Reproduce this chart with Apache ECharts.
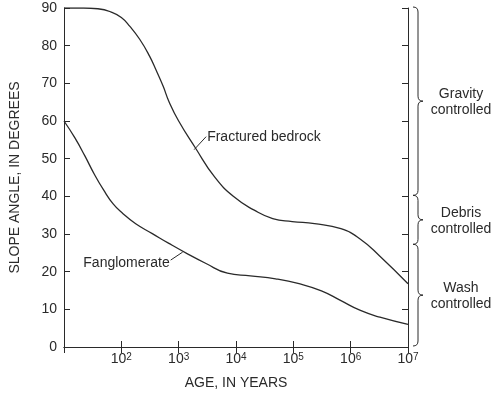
<!DOCTYPE html>
<html><head><meta charset="utf-8">
<script src="https://cdn.jsdelivr.net/npm/echarts@6/dist/echarts.min.js"></script>
<style>html,body{margin:0;padding:0;background:#fff}#c{width:500px;height:395px}</style>
</head><body><div id="c"></div>
<script>
// ---- data ----
const xMinYears = 10, xMaxYears = 1e7;
const yMin = 0, yMax = 90, yStep = 10;

const bedrockAges  = [10, 22, 39, 65, 100, 141, 209, 309, 407, 537, 676, 1000, 1950, 4266, 9333, 20417, 43652, 95499, 234423, 676083, 1479108, 3235937, 10000000];
const bedrockSlope = [90, 90, 89.8, 89.0, 87.5, 85.1, 81.7, 77.3, 73.4, 69.2, 65.2, 60.0, 52.9, 45.1, 39.8, 36.4, 34.1, 33.3, 32.75, 31.4, 28.6, 24.1, 16.8];

const fangAges  = [10, 15.5, 23, 34, 49, 72, 107, 178, 347, 676, 1479, 2884, 7079, 17783, 48978, 125893, 309030, 676083, 1479108, 3235937, 10000000];
const fangSlope = [60, 55.5, 50.8, 45.8, 41.7, 38.0, 35.4, 32.7, 30.1, 27.5, 24.6, 22.3, 19.6, 18.9, 18.1, 16.8, 14.9, 12.3, 9.7, 7.9, 6.0];

const seriesNames = ['Fractured bedrock', 'Fanglomerate'];
const labelAnchors = [[1862, 52.4], [1175, 25.2]];   // curve points where the leaders start

const zoneNames = ['Gravity\ncontrolled', 'Debris\ncontrolled', 'Wash\ncontrolled'];
const zoneTop    = [90, 40, 27];
const zoneBottom = [40, 27, 0];

const xTitle = 'AGE, IN YEARS';
const yTitle = 'SLOPE ANGLE, IN DEGREES';

// ---- chart ----
const INK = '#2a2a2a';
const FONT = '"Liberation Sans", Arial, Helvetica, sans-serif';
const chart = echarts.init(document.getElementById('c'), null, {renderer: 'canvas'});

function zip(a, b) { return a.map((v, i) => [v, b[i]]); }

const xLabelFmt = v => {
  const e = Math.round(Math.log10(v));
  return e === 1 ? '' : '{b|10}{s|' + e + '}';
};

const baseX = {
  type: 'log', logBase: 10, min: xMinYears, max: xMaxYears, interval: 1,
  axisLine: {show: true, lineStyle: {color: INK, width: 1}},
  axisTick: {show: true, inside: true, length: 6, lineStyle: {color: INK, width: 1}},
  splitLine: {show: false}, minorTick: {show: false}
};
const baseY = {
  type: 'value', min: yMin, max: yMax, interval: yStep,
  axisLine: {show: true, lineStyle: {color: INK, width: 1}},
  axisTick: {show: true, inside: true, length: 6, lineStyle: {color: INK, width: 1}},
  splitLine: {show: false}
};

chart.setOption({
  animation: false,
  backgroundColor: '#fff',
  grid: {left: 56, right: 92, top: 8, bottom: 43, containLabel: false},
  xAxis: [
    Object.assign({}, baseX, {
      position: 'bottom',
      name: xTitle, nameLocation: 'middle', nameGap: 29,
      nameTextStyle: {color: INK, fontSize: 14, fontFamily: FONT},
      axisLabel: {
        show: true, margin: 5, color: INK, fontFamily: FONT, formatter: xLabelFmt,
        rich: {
          b: {fontSize: 14, color: INK, fontFamily: FONT},
          s: {fontSize: 10, color: INK, fontFamily: FONT, verticalAlign: 'top'}
        }
      }
    }),
    Object.assign({}, baseX, {position: 'top', axisLabel: {show: false}})
  ],
  yAxis: [
    Object.assign({}, baseY, {
      position: 'left',
      name: yTitle, nameLocation: 'middle', nameGap: 42, nameRotate: 90,
      nameTextStyle: {color: INK, fontSize: 14, fontFamily: FONT},
      axisLabel: {show: true, margin: 7, color: INK, fontSize: 14, fontFamily: FONT}
    }),
    Object.assign({}, baseY, {position: 'right', axisLabel: {show: false}})
  ],
  series: [
    {name: seriesNames[0], type: 'line', xAxisIndex: 0, yAxisIndex: 0,
     data: zip(bedrockAges, bedrockSlope), showSymbol: false, smooth: 0.5,
     lineStyle: {color: INK, width: 1.3}},
    {name: seriesNames[1], type: 'line', xAxisIndex: 0, yAxisIndex: 0,
     data: zip(fangAges, fangSlope), showSymbol: false, smooth: 0.5,
     lineStyle: {color: INK, width: 1.3}}
  ]
});

// ---- annotations positioned through the axes ----
const px = p => chart.convertToPixel({xAxisIndex: 0, yAxisIndex: 0}, p);
const graphics = [];
const stroke = {stroke: INK, lineWidth: 1, fill: null};

// curve labels with leader lines
const leaderOffsets = [[12, -13], [-12, 8]];
labelAnchors.forEach((a, i) => {
  const p = px(a);
  const o = leaderOffsets[i];
  graphics.push({type: 'line', shape: {x1: p[0], y1: p[1], x2: p[0] + o[0], y2: p[1] + o[1]}, style: stroke});
  graphics.push({type: 'text', x: p[0] + o[0] + (o[0] > 0 ? 1 : -1), y: p[1] + o[1] + (o[1] > 0 ? 3 : 1),
                 style: {text: seriesNames[i], fill: INK, font: '14px ' + FONT,
                         align: o[0] > 0 ? 'left' : 'right', verticalAlign: 'middle'}});
});

// braces at the right side
const xRight = px([xMaxYears, 0])[0];
const x0 = xRight + 5, xs = xRight + 10, xt = xRight + 15, r = 5;
function quad(ax, ay, cx, cy, bx, by) {
  return {type: 'bezierCurve', shape: {x1: ax, y1: ay, cpx1: cx, cpy1: cy, x2: bx, y2: by}, style: stroke};
}
zoneNames.forEach((name, i) => {
  const yt = px([xMinYears, zoneTop[i]])[1] - 1;
  const yb = px([xMinYears, zoneBottom[i]])[1] - 1;
  const ym = (yt + yb) / 2;
  graphics.push(quad(x0, yt, xs, yt, xs, yt + r));
  graphics.push({type: 'line', shape: {x1: xs, y1: yt + r, x2: xs, y2: ym - r}, style: stroke});
  graphics.push(quad(xs, ym - r, xs, ym, xt, ym));
  graphics.push(quad(xt, ym, xs, ym, xs, ym + r));
  graphics.push({type: 'line', shape: {x1: xs, y1: ym + r, x2: xs, y2: yb - r}, style: stroke});
  graphics.push(quad(xs, yb - r, xs, yb, x0, yb));
  graphics.push({type: 'text', x: xRight + 53, y: ym + 1,
                 style: {text: name, fill: INK, font: '14px ' + FONT, align: 'center',
                         verticalAlign: 'middle', lineHeight: 16}});
});

chart.setOption({graphic: graphics});
</script>
</body></html>
